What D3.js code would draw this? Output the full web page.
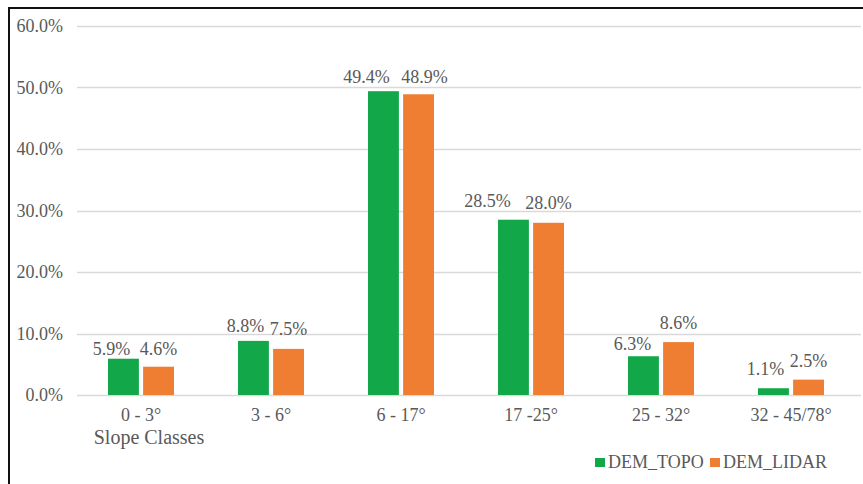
<!DOCTYPE html>
<html>
<head>
<meta charset="utf-8">
<script src="https://cdn.jsdelivr.net/npm/d3@7"></script>
<style>
  #chart, #chart text { font-family: "Liberation Serif", "Times New Roman", serif; }
</style>
</head>
<body style="margin:0;padding:0;background:#fff">
<svg id="chart" width="863" height="484"></svg>
<script>
// Slope class distribution for the two elevation models
const categories = ["0 - 3°", "3 - 6°", "6 - 17°", "17 -25°", "25 - 32°", "32 - 45/78°"];
const seriesNames = ["DEM_TOPO", "DEM_LIDAR"];
const demTopo = [5.9, 8.8, 49.4, 28.5, 6.3, 1.1];
const demLidar = [4.6, 7.5, 48.9, 28.0, 8.6, 2.5];
const yTicks = [0, 10, 20, 30, 40, 50, 60];
const axisTitle = "Slope Classes";

// styling
const colors = ["#12a84a", "#ef7d32"];
const serifStack = "'Liberation Serif', 'Times New Roman', serif";
const textColor = "#595959";
// hand-placed data label nudges (px): horizontal shift and gap above the bar
const labelDx = [[-12, -8, -17, -26, -11, -8], [0, 0, 6, 0, 0, 0]];
const labelGap = [[4, 9, 8, 13, 6, 13], [12, 14, 11, 14, 13, 13]];

const svg = d3.select("#chart").style("font-family", serifStack);

function styleText(sel, size) {
  return sel.style("font-family", serifStack)
    .style("font-size", size + "px")
    .attr("fill", textColor);
}

// outer frame (open to the right and bottom edges)
svg.append("path")
  .attr("d", "M9,484 V8 H863")
  .attr("fill", "none").attr("stroke", "#111").attr("stroke-width", 2);

const plot = { left: 76, right: 856, top: 26, bottom: 395, gridEnd: 861 };

const x0 = d3.scaleBand().domain(categories).range([plot.left, plot.right]);
const x1 = d3.scaleBand().domain(seriesNames).range([0, 66]).paddingInner(0.12);
const y = d3.scaleLinear().domain([0, 60]).range([plot.bottom, plot.top]);

// gridlines
svg.append("g").selectAll("line").data(yTicks).join("line")
  .attr("x1", plot.left + 1).attr("x2", plot.gridEnd)
  .attr("y1", d => Math.round(y(d)) + 0.5).attr("y2", d => Math.round(y(d)) + 0.5)
  .attr("stroke", "#d9d9d9").attr("stroke-width", 1.3);

// y axis labels
const yAxis = d3.axisLeft(y).tickValues(yTicks).tickSize(0).tickPadding(0)
  .tickFormat(d => d.toFixed(1) + "%");
const gy = svg.append("g").attr("transform", "translate(63,0)").call(yAxis);
gy.attr("font-family", null).attr("font-size", null);
gy.select(".domain").remove();
styleText(gy.selectAll("text"), 18).attr("dy", "0.33em");

// x axis labels
const xAxis = d3.axisBottom(x0).tickSize(0).tickPadding(0);
const gx = svg.append("g").attr("transform", "translate(0,421)").call(xAxis);
gx.attr("font-family", null).attr("font-size", null);
gx.select(".domain").remove();
styleText(gx.selectAll("text"), 18).attr("dy", 0);

styleText(svg.append("text"), 20)
  .attr("x", x0(categories[0]) + x0.bandwidth() / 2 + 8).attr("y", 444)
  .attr("text-anchor", "middle")
  .text(axisTitle);

// bars
const rows = categories.map((c, i) => ({ cat: c, i, vals: [demTopo[i], demLidar[i]] }));
const groups = svg.append("g").selectAll("g").data(rows).join("g")
  .attr("transform", d => `translate(${x0(d.cat) + (x0.bandwidth() - 66) / 2},0)`);

groups.selectAll("rect").data(d => d.vals.map((v, k) => ({ v, k })))
  .join("rect")
  .attr("x", d => x1(seriesNames[d.k]))
  .attr("width", x1.bandwidth())
  .attr("y", d => y(d.v))
  .attr("height", d => y(0) - y(d.v))
  .attr("fill", d => colors[d.k]);

// value labels
styleText(groups.selectAll("text").data(d => d.vals.map((v, k) => ({ v, k, i: d.i })))
  .join("text"), 18)
  .attr("x", d => x1(seriesNames[d.k]) + x1.bandwidth() / 2 + labelDx[d.k][d.i])
  .attr("y", d => y(d.v) - labelGap[d.k][d.i])
  .attr("text-anchor", "middle")
  .text(d => d.v.toFixed(1) + "%");

// legend
const legend = svg.append("g").attr("transform", "translate(595,468)");
const lx = [0, 115];
seriesNames.forEach((name, k) => {
  legend.append("rect").attr("x", lx[k]).attr("y", -10).attr("width", 10).attr("height", 9).attr("fill", colors[k]);
  styleText(legend.append("text"), 18).attr("x", lx[k] + 13).attr("y", 0).text(name);
});
</script>
</body>
</html>
